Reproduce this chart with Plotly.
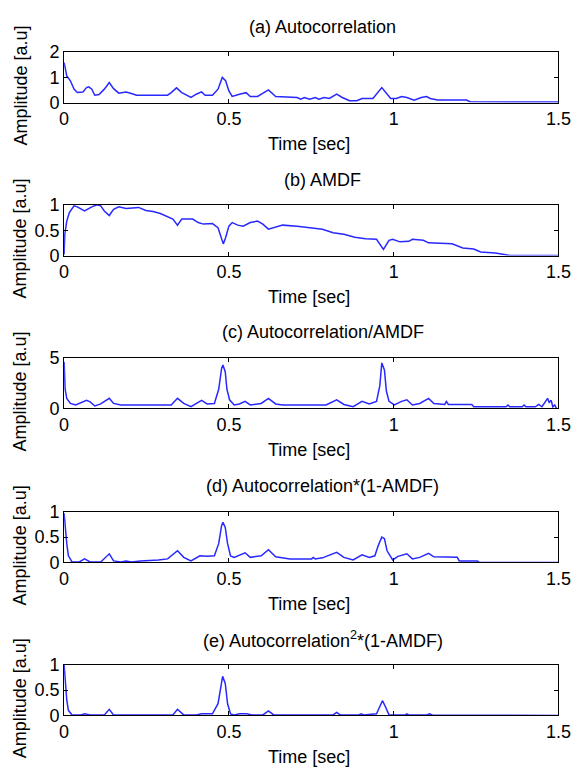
import plotly.graph_objects as go

# ---------------- data ----------------
t_a = [0, 0.008, 0.019, 0.03, 0.04, 0.057, 0.068, 0.075, 0.084, 0.093, 0.106, 0.122, 0.137, 0.15, 0.166,
       0.188, 0.204, 0.22, 0.314, 0.325, 0.341, 0.357, 0.385, 0.401, 0.417, 0.428, 0.45, 0.467, 0.48, 0.49,
       0.5, 0.51, 0.532, 0.552, 0.565, 0.587, 0.62, 0.642, 0.707, 0.718, 0.729, 0.745, 0.762, 0.773, 0.789,
       0.805, 0.827, 0.844, 0.866, 0.888, 0.904, 0.937, 0.964, 0.98, 0.991, 1.008, 1.024, 1.04, 1.062, 1.084,
       1.1, 1.111, 1.133, 1.221, 1.232, 1.5]
y_a = [1.58, 1.05, 0.86, 0.53, 0.4, 0.42, 0.59, 0.62, 0.53, 0.29, 0.32, 0.53, 0.79, 0.55, 0.37,
       0.42, 0.36, 0.29, 0.29, 0.39, 0.58, 0.39, 0.2, 0.33, 0.42, 0.29, 0.29, 0.53, 0.99, 0.86,
       0.46, 0.24, 0.33, 0.39, 0.24, 0.24, 0.5, 0.24, 0.2, 0.13, 0.2, 0.13, 0.2, 0.13, 0.2,
       0.16, 0.33, 0.2, 0.07, 0.07, 0.16, 0.16, 0.59, 0.33, 0.16, 0.16, 0.24, 0.2, 0.09, 0.2,
       0.24, 0.16, 0.1, 0.1, 0.03, 0.02]

t_b = [0, 0.002, 0.008, 0.016, 0.03, 0.04, 0.062, 0.084, 0.1, 0.111, 0.122, 0.137, 0.15, 0.166, 0.188,
       0.226, 0.248, 0.27, 0.292, 0.319, 0.33, 0.344, 0.357, 0.39, 0.407, 0.423, 0.45, 0.467, 0.478, 0.483,
       0.49, 0.5, 0.51, 0.527, 0.543, 0.565, 0.587, 0.603, 0.62, 0.642, 0.663, 0.707, 0.751, 0.784, 0.816,
       0.849, 0.882, 0.915, 0.948, 0.969, 0.986, 0.997, 1.019, 1.046, 1.057, 1.09, 1.106, 1.177, 1.21, 1.243,
       1.264, 1.308, 1.336, 1.352, 1.5]
y_b = [0.02, 0.42, 0.68, 0.85, 0.98, 0.96, 0.88, 0.96, 1.0, 0.98, 0.88, 0.79, 0.91, 0.96, 0.93,
       0.95, 0.89, 0.87, 0.83, 0.75, 0.72, 0.6, 0.72, 0.72, 0.65, 0.62, 0.63, 0.55, 0.35, 0.23,
       0.35, 0.58, 0.65, 0.6, 0.58, 0.65, 0.68, 0.62, 0.52, 0.56, 0.6, 0.58, 0.54, 0.52, 0.45,
       0.42, 0.36, 0.33, 0.32, 0.12, 0.3, 0.32, 0.27, 0.28, 0.32, 0.3, 0.25, 0.23, 0.15, 0.13,
       0.07, 0.05, 0.02, 0.0, 0.0]

t_c = [0, 0.003, 0.008, 0.019, 0.035, 0.057, 0.068, 0.079, 0.093, 0.111, 0.137, 0.15, 0.172, 0.325, 0.344,
       0.363, 0.385, 0.417, 0.434, 0.456, 0.469, 0.478, 0.482, 0.489, 0.494, 0.502, 0.516, 0.532, 0.549, 0.565,
       0.598, 0.62, 0.642, 0.663, 0.795, 0.827, 0.849, 0.877, 0.904, 0.926, 0.948, 0.958, 0.964, 0.972, 0.978,
       0.986, 1.002, 1.024, 1.04, 1.057, 1.079, 1.106, 1.122, 1.155, 1.16, 1.166, 1.237, 1.243, 1.341, 1.347,
       1.352, 1.39, 1.396, 1.401, 1.43, 1.44, 1.45, 1.461, 1.467, 1.472, 1.478, 1.483, 1.489, 1.494]
y_c = [4.6, 1.9, 1.0, 0.5, 0.35, 0.6, 0.8, 0.65, 0.25, 0.45, 1.0, 0.5, 0.35, 0.35, 1.0,
       0.5, 0.17, 0.8, 0.45, 0.5, 1.9, 3.97, 4.3, 3.6, 1.9, 0.86, 0.35, 0.45, 0.7, 0.35,
       0.5, 1.0, 0.45, 0.35, 0.35, 0.86, 0.4, 0.17, 0.7, 0.45, 0.7, 2.25, 4.5, 3.8, 1.7,
       0.7, 0.35, 0.7, 0.86, 0.35, 0.5, 1.0, 0.5, 0.4, 0.7, 0.4, 0.4, 0.17, 0.17, 0.35,
       0.17, 0.17, 0.35, 0.17, 0.17, 0.4, 0.17, 0.7, 1.0, 0.6, 0.8, 0.17, 0.35, 0.0]

t_d = [0, 0.003, 0.008, 0.013, 0.024, 0.046, 0.062, 0.079, 0.111, 0.137, 0.15, 0.172, 0.188, 0.204, 0.232,
       0.286, 0.314, 0.344, 0.363, 0.385, 0.412, 0.434, 0.456, 0.469, 0.478, 0.482, 0.489, 0.496, 0.505, 0.516,
       0.549, 0.565, 0.598, 0.62, 0.642, 0.685, 0.751, 0.756, 0.762, 0.784, 0.827, 0.849, 0.877, 0.904, 0.926,
       0.943, 0.953, 0.964, 0.972, 0.98, 0.997, 1.013, 1.04, 1.057, 1.079, 1.106, 1.122, 1.193, 1.199, 1.254,
       1.259, 1.5]
y_d = [0.97, 0.67, 0.37, 0.13, 0.01, 0.01, 0.07, 0.01, 0.01, 0.17, 0.03, 0.01, 0.03, 0.01, 0.03,
       0.05, 0.07, 0.23, 0.1, 0.03, 0.13, 0.12, 0.13, 0.37, 0.73, 0.79, 0.69, 0.37, 0.13, 0.1,
       0.19, 0.1, 0.13, 0.25, 0.11, 0.07, 0.07, 0.1, 0.07, 0.09, 0.2, 0.1, 0.05, 0.15, 0.1,
       0.13, 0.33, 0.5, 0.47, 0.23, 0.05, 0.12, 0.17, 0.07, 0.1, 0.18, 0.11, 0.1, 0.03, 0.03,
       0.0, 0.0]

t_e = [0, 0.003, 0.008, 0.013, 0.024, 0.051, 0.062, 0.079, 0.122, 0.137, 0.15, 0.33, 0.344, 0.363, 0.401,
       0.417, 0.45, 0.467, 0.476, 0.481, 0.489, 0.496, 0.505, 0.516, 0.532, 0.554, 0.57, 0.603, 0.62, 0.636,
       0.816, 0.827, 0.838, 0.893, 0.902, 0.909, 0.948, 0.958, 0.966, 0.975, 0.986, 1.035, 1.04, 1.046, 1.1,
       1.109, 1.117, 1.5]
y_e = [1.0, 0.7, 0.3, 0.1, 0.01, 0.01, 0.03, 0.01, 0.01, 0.12, 0.01, 0.01, 0.12, 0.01, 0.01,
       0.03, 0.03, 0.23, 0.63, 0.77, 0.63, 0.23, 0.03, 0.01, 0.03, 0.03, 0.01, 0.01, 0.09, 0.01,
       0.01, 0.06, 0.01, 0.01, 0.03, 0.01, 0.03, 0.17, 0.29, 0.17, 0.01, 0.01, 0.03, 0.01, 0.01,
       0.03, 0.01, 0.0]

titles = ["(a) Autocorrelation", "(b) AMDF", "(c) Autocorrelation/AMDF",
          "(d) Autocorrelation*(1-AMDF)", "(e) Autocorrelation<sup>2</sup>*(1-AMDF)"]
y_ranges = [[0, 2], [0, 1], [0, 5], [0, 1], [0, 1]]
y_ticks = [[0, 1, 2], [0, 0.5, 1], [0, 5], [0, 0.5, 1], [0, 0.5, 1]]
x_ticks = [0, 0.5, 1, 1.5]
x_label = "Time [sec]"
y_label = "Amplitude [a.u]"

series = [(t_a, y_a), (t_b, y_b), (t_c, y_c), (t_d, y_d), (t_e, y_e)]

# ---------------- layout ----------------
W, H = 585, 778
box_left, box_right = 61, 571
box_tops = [43, 200, 357, 515, 672]
box_h = 52
FONT = "Liberation Sans, Arial, sans-serif"
FS = 18

fig = go.Figure()
annotations = []
for i, ((t, y), title, yr, yt) in enumerate(zip(series, titles, y_ranges, y_ticks)):
    n = i + 1
    xa = "x" if n == 1 else f"x{n}"
    ya = "y" if n == 1 else f"y{n}"
    fig.add_trace(go.Scatter(x=t, y=y, mode="lines", xaxis=xa, yaxis=ya,
                             line=dict(color="rgb(40,40,255)", width=1.5),
                             showlegend=False, hoverinfo="skip"))
    top = box_tops[i]
    bot = top + box_h
    ydom = [1 - bot / H, 1 - top / H]
    axcommon = dict(showline=True, linecolor="black", linewidth=1, mirror="allticks",
                    ticks="inside", ticklen=4, tickcolor="black", tickwidth=1,
                    showgrid=False, zeroline=False, fixedrange=True,
                    tickfont=dict(family=FONT, size=FS, color="black"))
    xkey = "xaxis" if n == 1 else f"xaxis{n}"
    ykey = "yaxis" if n == 1 else f"yaxis{n}"
    fig.update_layout(**{
        xkey: dict(domain=[box_left / W, box_right / W], range=[0, 1.5],
                   tickvals=x_ticks, anchor=ya, **axcommon),
        ykey: dict(domain=ydom, range=yr, tickvals=yt, anchor=xa, **axcommon),
    })
    annotations.append(dict(text=title, x=328 / W, y=1 - (top - 26) / H, xref="paper", yref="paper",
                            xanchor="center", yanchor="middle", showarrow=False,
                            font=dict(family=FONT, size=FS, color="black")))
    annotations.append(dict(text=x_label, x=313.5 / W, y=1 - (bot + 43) / H, xref="paper", yref="paper",
                            xanchor="center", yanchor="middle", showarrow=False,
                            font=dict(family=FONT, size=FS, color="black")))
    annotations.append(dict(text=y_label, x=15.5 / W, y=1 - (top + 34.5) / H, xref="paper", yref="paper",
                            xanchor="center", yanchor="middle", showarrow=False, textangle=-90,
                            font=dict(family=FONT, size=FS, color="black")))

fig.update_layout(width=W, height=H, margin=dict(l=0, r=0, t=0, b=0),
                  paper_bgcolor="white", plot_bgcolor="white",
                  annotations=annotations)

fig.write_html("out.html")
